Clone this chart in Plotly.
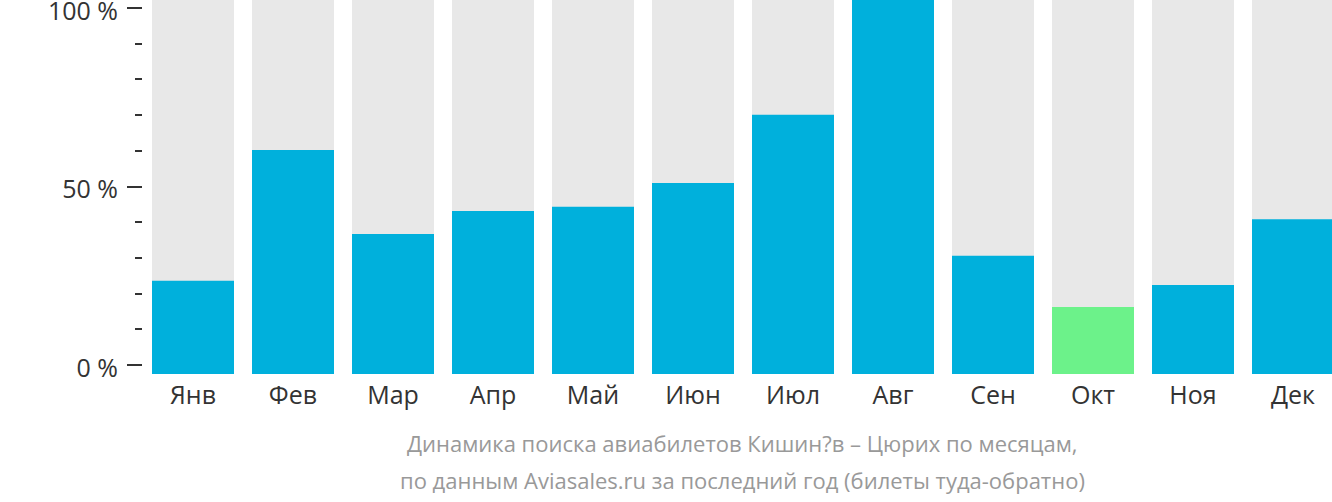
import plotly.graph_objects as go

months = ["Янв", "Фев", "Мар", "Апр", "Май", "Июн", "Июл", "Авг", "Сен", "Окт", "Ноя", "Дек"]
values = [24.9, 59.9, 37.4, 43.6, 44.7, 51.1, 69.3, 100, 31.6, 17.9, 23.8, 41.4]
highlight_month = "Окт"
background = [100] * len(months)

tick_vals = [0, 50, 100]
tick_text = ["0 %", "50 %", "100 %"]

BLUE = "#00b0dc"
GREEN = "#6cf28a"
GREY = "#e8e8e8"

colors = [GREEN if m == highlight_month else BLUE for m in months]

fig = go.Figure()
fig.add_trace(go.Bar(x=months, y=background, marker=dict(color=GREY, line=dict(width=0)),
                     width=0.82, hoverinfo="skip", showlegend=False))
fig.add_trace(go.Bar(x=months, y=values, marker=dict(color=colors, line=dict(width=0)),
                     width=0.82, showlegend=False))
# invisible trace for the visible percentage axis
fig.add_trace(go.Scatter(x=[months[0]], y=[0], yaxis="y2", mode="markers",
                         marker=dict(opacity=0), hoverinfo="skip", showlegend=False))

fig.update_layout(
    width=1332, height=502,
    margin=dict(l=143, r=0, t=0, b=128, autoexpand=False),
    barmode="overlay",
    plot_bgcolor="white", paper_bgcolor="white",
    font=dict(family="Open Sans", color="#333333"),
    xaxis=dict(type="category", range=[-0.5, 11.39], showgrid=False, zeroline=False,
               showline=False, ticks="", tickfont=dict(size=25, color="#333333"),
               ticklabelstandoff=4, automargin=False),
    yaxis=dict(range=[0, 100], visible=False, fixedrange=True, automargin=False),
    yaxis2=dict(overlaying="y", side="left", range=[-2.52, 102.24],
                tickmode="array", tickvals=tick_vals, ticktext=tick_text,
                ticks="outside", ticklen=15, tickwidth=2, tickcolor="#333333",
                tickfont=dict(size=25, color="#333333"),
                minor=dict(dtick=10, tick0=0, ticks="outside", ticklen=7, tickwidth=2,
                           tickcolor="#333333", showgrid=False),
                showgrid=False, zeroline=False, showline=False, ticklabelstandoff=4,
                ticklabelshift=3, ticklabeloverflow="allow", automargin=False),
    annotations=[
        dict(text="Динамика поиска авиабилетов Кишин?в – Цюрих по месяцам,",
             xref="paper", yref="paper", x=0.504, y=-0.185, showarrow=False,
             xanchor="center", yanchor="middle", font=dict(size=22, color="#999999")),
        dict(text="по данным Aviasales.ru за последний год (билеты туда-обратно)",
             xref="paper", yref="paper", x=0.504, y=-0.284, showarrow=False,
             xanchor="center", yanchor="middle", font=dict(size=22, color="#999999")),
    ],
)

fig.write_html("out.html")
